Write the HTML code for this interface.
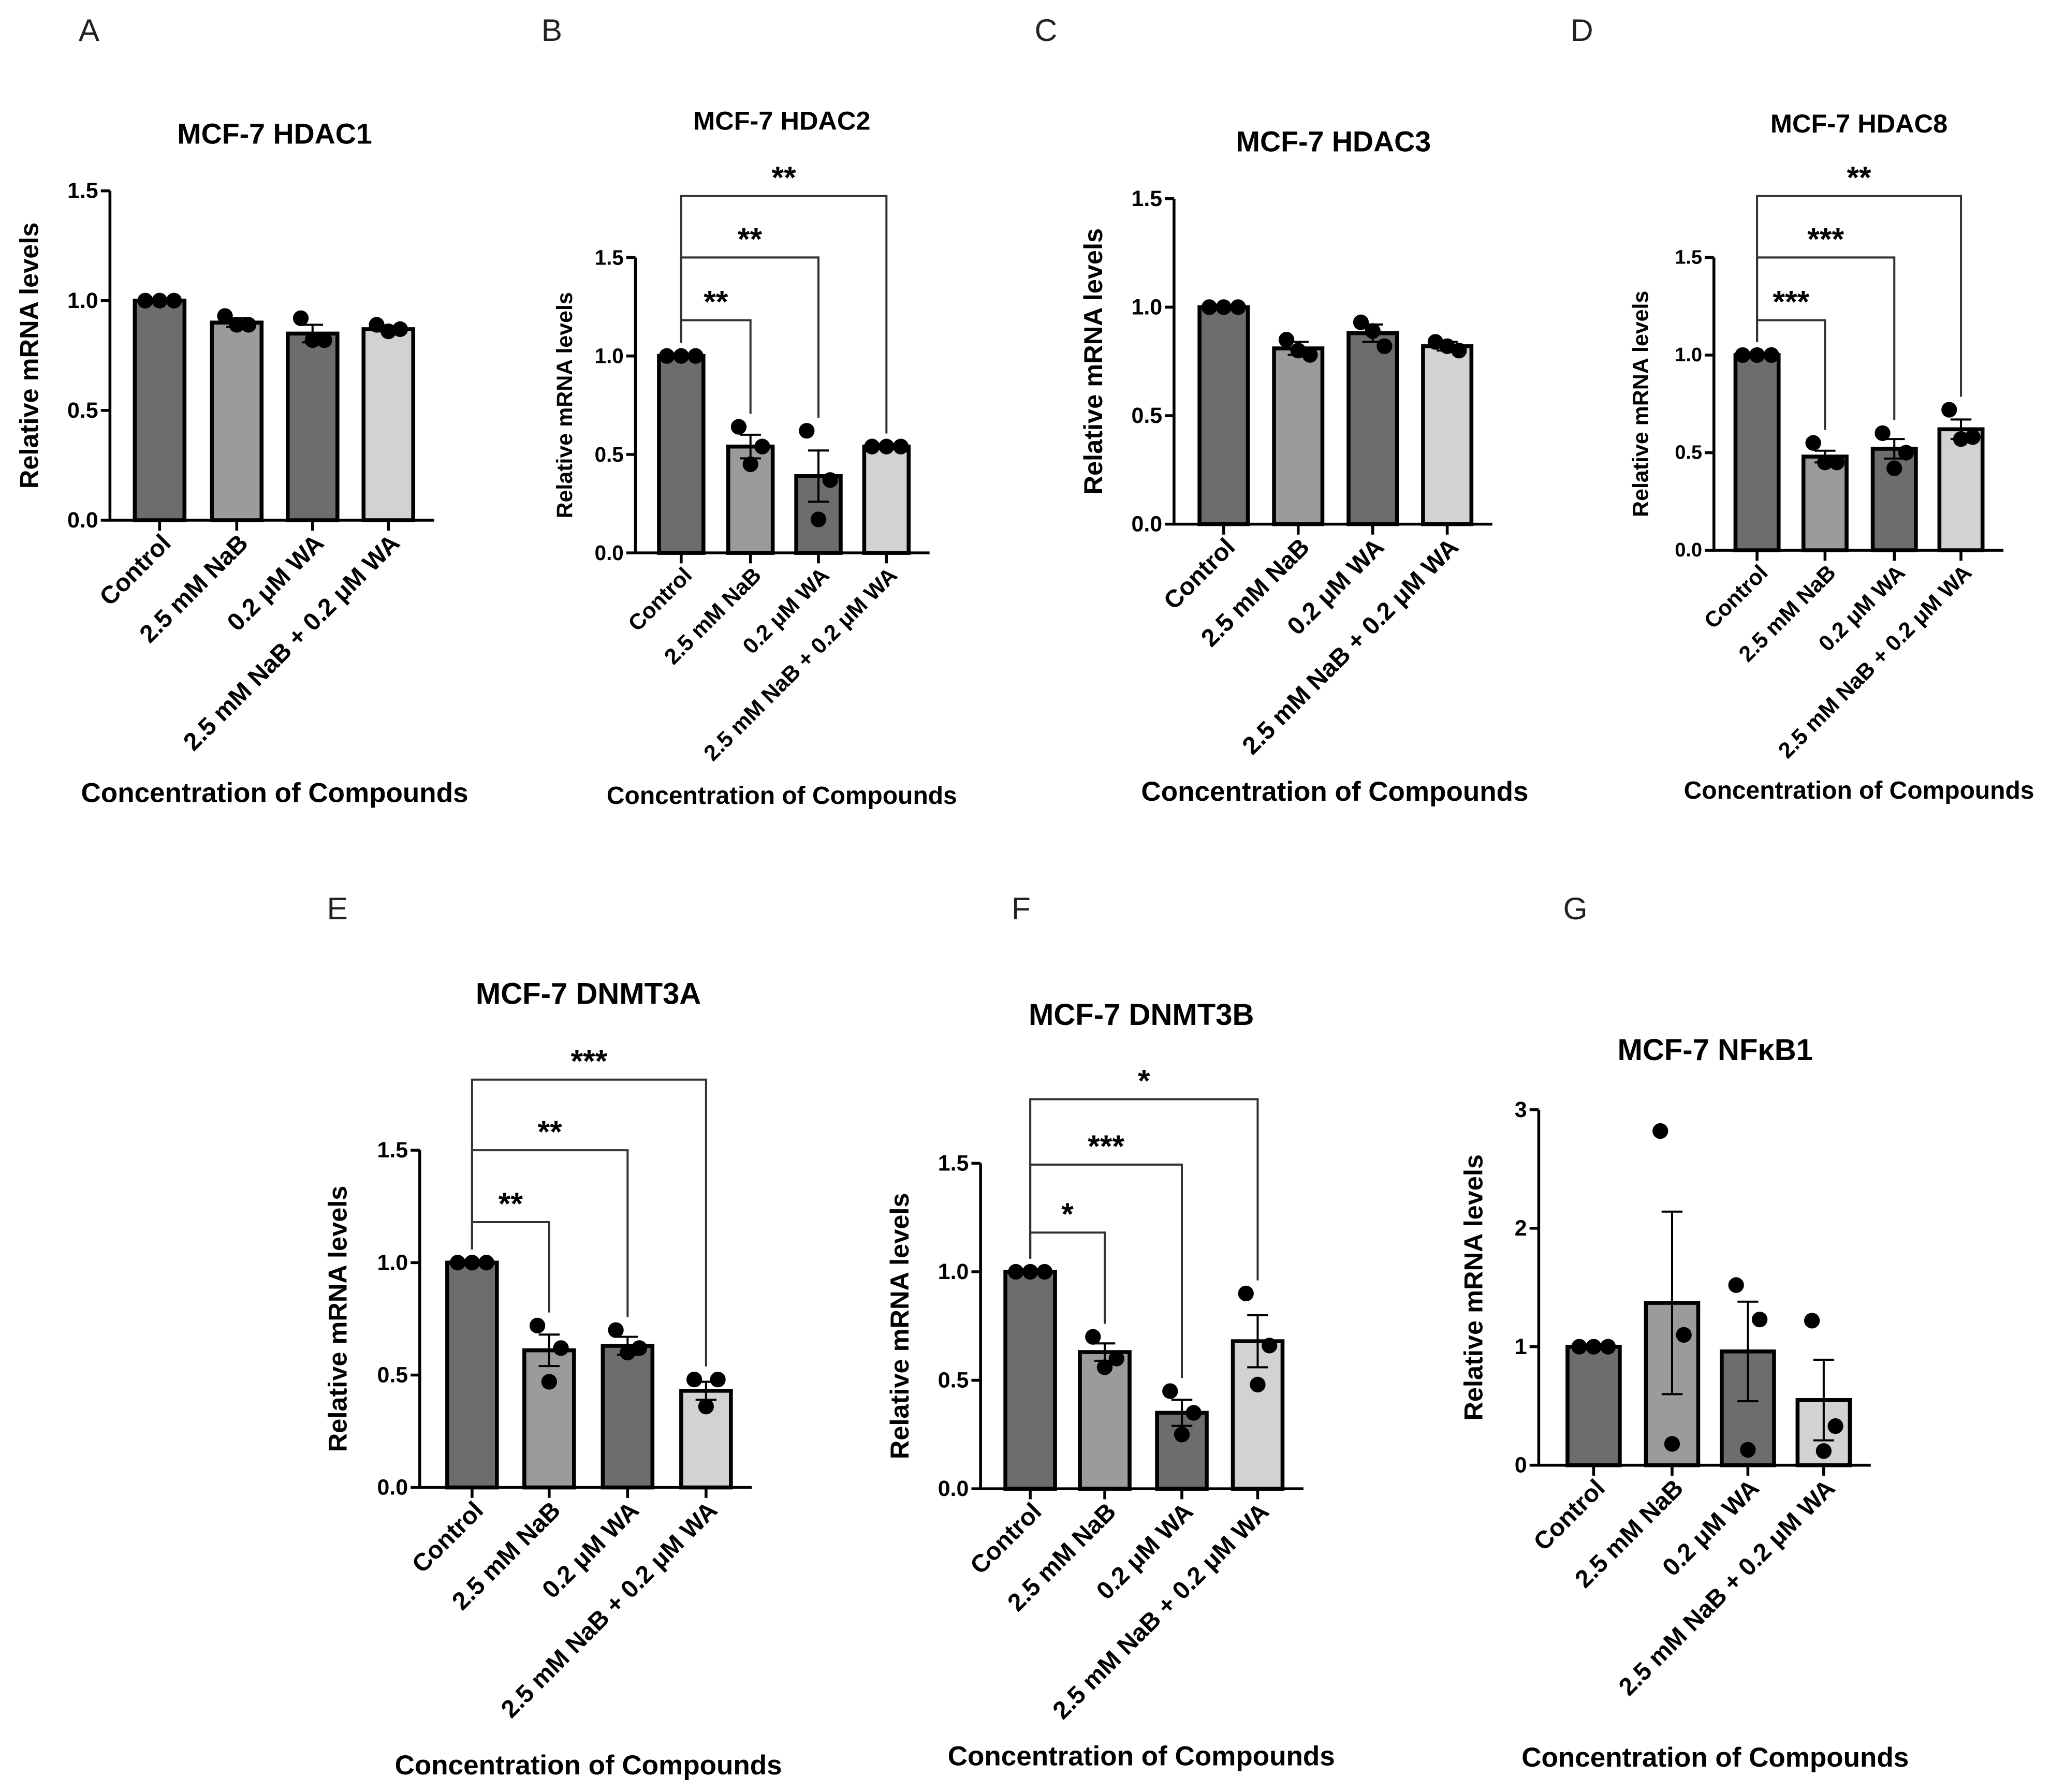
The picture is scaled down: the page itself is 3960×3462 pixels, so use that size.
<!DOCTYPE html>
<html><head><meta charset="utf-8">
<style>
html,body{margin:0;padding:0;background:#fff;}
svg{display:block;font-family:"Liberation Sans",Arial,sans-serif;}
</style></head>
<body>
<svg id="fig" width="3960" height="3462" viewBox="0 0 1568 1371" xmlns="http://www.w3.org/2000/svg"></svg>
<script>
const categories = ["Control","2.5 mM NaB","0.2 μM WA","2.5 mM NaB + 0.2 μM WA"];
const hdac1Means = [1.0,0.9,0.85,0.87];
const hdac1Points = [[1,1,1],[0.93,0.89,0.89],[0.92,0.82,0.82],[0.89,0.87,0.86]];
const hdac1Err = [0,0.02,0.04,0.01];
const hdac2Means = [1.0,0.54,0.39,0.54];
const hdac2Points = [[1,1,1],[0.64,0.54,0.45],[0.62,0.37,0.17],[0.54,0.54,0.54]];
const hdac2Err = [0,0.06,0.13,0];
const hdac2Sig = ["**","**","**"];
const hdac3Means = [1.0,0.81,0.88,0.82];
const hdac3Points = [[1,1,1],[0.85,0.78,0.80],[0.93,0.82,0.89],[0.84,0.80,0.82]];
const hdac3Err = [0,0.03,0.04,0.02];
const hdac8Means = [1.0,0.48,0.52,0.62];
const hdac8Points = [[1,1,1],[0.55,0.45,0.45],[0.60,0.50,0.42],[0.72,0.58,0.57]];
const hdac8Err = [0,0.03,0.05,0.05];
const hdac8Sig = ["***","***","**"];
const dnmt3aMeans = [1.0,0.61,0.63,0.43];
const dnmt3aPoints = [[1,1,1],[0.72,0.62,0.47],[0.70,0.62,0.60],[0.48,0.48,0.36]];
const dnmt3aErr = [0,0.07,0.04,0.04];
const dnmt3aSig = ["**","**","***"];
const dnmt3bMeans = [1.0,0.63,0.35,0.68];
const dnmt3bPoints = [[1,1,1],[0.70,0.60,0.56],[0.45,0.35,0.25],[0.90,0.66,0.48]];
const dnmt3bErr = [0,0.04,0.06,0.12];
const dnmt3bSig = ["*","***","*"];
const nfkbMeans = [1.0,1.37,0.96,0.55];
const nfkbPoints = [[1,1,1],[2.82,1.1,0.18],[1.52,1.23,0.13],[1.22,0.33,0.12]];
const nfkbErr = [0,0.77,0.42,0.34];
const ticks15 = [0,0.5,1.0,1.5];
const tickLabels15 = ["0.0","0.5","1.0","1.5"];
const ticks3 = [0,1,2,3];
const tickLabels3 = ["0","1","2","3"];

const fills = ["#6d6d6d","#9b9b9b","#6d6d6d","#d2d2d2"];
const NS="http://www.w3.org/2000/svg";
const svg=document.getElementById('fig');
function mk(tag,attrs,parent,text){const e=document.createElementNS(NS,tag);for(const k in attrs)e.setAttribute(k,attrs[k]);if(text!==undefined)e.textContent=text;(parent||svg).appendChild(e);return e;}

const panels=[
 {id:"hdac1",letter:"A",lx:68,ly:25,title:"MCF-7 HDAC1",tx:210,ty:104,ts:22,ax:84,y0:398,yTop:146,vmax:1.5,xs:[122,181,239,297],bw:38,means:hdac1Means,pts:hdac1Points,err:hdac1Err,sig:null,ticks:ticks15,tl:tickLabels15,xt:608,xtx:210,xts:21,tks:17,xls:19,yls:20,ylx:22},
 {id:"hdac2",letter:"B",lx:422,ly:25,title:"MCF-7 HDAC2",tx:598,ty:94,ts:20,ax:486,y0:423,yTop:197,vmax:1.5,xs:[521,574,626,678],bw:34,means:hdac2Means,pts:hdac2Points,err:hdac2Err,sig:hdac2Sig,sigTops:[245,197,150],ticks:ticks15,tl:tickLabels15,xt:610,xtx:598,xts:19,tks:16,xls:17,yls:17,ylx:432},
 {id:"hdac3",letter:"C",lx:800,ly:25,title:"MCF-7 HDAC3",tx:1020,ty:110,ts:22,ax:898,y0:401,yTop:152,vmax:1.5,xs:[936,993,1050,1107],bw:37,means:hdac3Means,pts:hdac3Points,err:hdac3Err,sig:null,ticks:ticks15,tl:tickLabels15,xt:607,xtx:1021,xts:21,tks:17,xls:19,yls:20,ylx:836},
 {id:"hdac8",letter:"D",lx:1210,ly:25,title:"MCF-7 HDAC8",tx:1422,ty:96,ts:20,ax:1311,y0:421,yTop:197,vmax:1.5,xs:[1344,1396,1449,1500],bw:33,means:hdac8Means,pts:hdac8Points,err:hdac8Err,sig:hdac8Sig,sigTops:[245,197,150],ticks:ticks15,tl:tickLabels15,xt:606,xtx:1422,xts:19,tks:15,xls:17,yls:17,ylx:1255},
 {id:"dnmt3a",letter:"E",lx:258,ly:697,title:"MCF-7 DNMT3A",tx:450,ty:762,ts:23,ax:321,y0:1138,yTop:880,vmax:1.5,xs:[361,420,480,540],bw:38,means:dnmt3aMeans,pts:dnmt3aPoints,err:dnmt3aErr,sig:dnmt3aSig,sigTops:[935,880,826],ticks:ticks15,tl:tickLabels15,xt:1352,xtx:450,xts:21,tks:17,xls:19,yls:20,ylx:258},
 {id:"dnmt3b",letter:"F",lx:781,ly:697,title:"MCF-7 DNMT3B",tx:873,ty:778,ts:23,ax:750,y0:1139,yTop:890,vmax:1.5,xs:[788,845,904,962],bw:38,means:dnmt3bMeans,pts:dnmt3bPoints,err:dnmt3bErr,sig:dnmt3bSig,sigTops:[943,891,841],ticks:ticks15,tl:tickLabels15,xt:1345,xtx:873,xts:21,tks:17,xls:19,yls:20,ylx:688},
 {id:"nfkb1",letter:"G",lx:1205,ly:697,title:"MCF-7 NFκB1",tx:1312,ty:805,ts:23,ax:1177,y0:1121,yTop:849,vmax:3,xs:[1219,1279,1337,1395],bw:40,means:nfkbMeans,pts:nfkbPoints,err:nfkbErr,sig:null,ticks:ticks3,tl:tickLabels3,xt:1346,xtx:1312,xts:21,tks:17,xls:19,yls:20,ylx:1127}
];

panels.forEach(p=>{
 const g=mk('g',{});
 
 
 const Y=v=>p.y0-(v/p.vmax)*(p.y0-p.yTop);
 const lt=mk('text',{x:p.lx,y:p.ly,'font-size':24,'text-anchor':'middle','dominant-baseline':'middle',fill:'#222'},g,p.letter);
 
 
 const t=mk('text',{x:p.tx,y:p.ty,'font-size':p.ts,'font-weight':'bold','text-anchor':'middle','dominant-baseline':'middle'},g,p.title);
 
 
 const xEnd=p.xs[3]+p.bw/2+16;
 p.means.forEach((m,i)=>{
  const r=mk('rect',{x:p.xs[i]-p.bw/2,y:Y(m),width:p.bw,height:p.y0-Y(m),fill:fills[i],stroke:'#000','stroke-width':3},g);
  
  
  if(p.err[i]>0){
   const e=mk('path',{d:`M${p.xs[i]},${Y(m-p.err[i])}V${Y(m+p.err[i])}M${p.xs[i]-8},${Y(m+p.err[i])}h16M${p.xs[i]-8},${Y(m-p.err[i])}h16`,stroke:'#000','stroke-width':1.6,fill:'none'},g);
   
   
  }
  const pts=p.pts[i];
  const same=pts.every(v=>Math.abs(v-pts[0])<0.02);
  pts.forEach((v,j)=>{
   const dx=same?(j-1)*11:[-9,9,0][j];
   const c=mk('circle',{cx:p.xs[i]+dx,cy:Y(v),r:6,fill:'#000'},g);
   
   
  });
 });
 const ax=mk('path',{d:`M${p.ax},${p.yTop}V${p.y0}H${xEnd}`,stroke:'#000','stroke-width':2.2,fill:'none'},g);
 
 
 p.ticks.forEach((v,k)=>{
  mk('line',{x1:p.ax-7,x2:p.ax,y1:Y(v),y2:Y(v),stroke:'#000','stroke-width':2.2},g);
  const tl=mk('text',{x:p.ax-9,y:Y(v),'font-size':p.tks,'font-weight':'bold','text-anchor':'end','dominant-baseline':'central'},g,p.tl[k]);
  
  
 });
 p.xs.forEach((x,i)=>{
  mk('line',{x1:x,x2:x,y1:p.y0,y2:p.y0+8,stroke:'#000','stroke-width':2.2},g);
  const ax0=x+5, ay0=p.y0+14;
  const xl=mk('text',{x:ax0,y:ay0,dy:'0.35em','font-size':p.xls,'font-weight':'bold','text-anchor':'end',transform:`rotate(-45 ${ax0} ${ay0})`},g,categories[i]);
  
  
 });
 const yl=mk('text',{x:p.ylx,y:(p.y0+p.yTop)/2,'font-size':p.yls,'font-weight':'bold','text-anchor':'middle','dominant-baseline':'central',transform:`rotate(-90 ${p.ylx} ${(p.y0+p.yTop)/2})`},g,"Relative mRNA levels");
 
 
 const xt=mk('text',{x:p.xtx,y:p.xt,'font-size':p.xts,'font-weight':'bold','text-anchor':'middle','dominant-baseline':'middle'},g,"Concentration of Compounds");
 
 
 if(p.sig){
  p.sig.forEach((s,k)=>{
   const i=k+1;
   const top=p.sigTops[k];
   const yl0=Y(Math.max(...p.pts[0]))-10;
   const yr=Y(Math.max(...p.pts[i],p.means[i]+p.err[i]))-10;
   const b=mk('path',{d:`M${p.xs[0]},${yl0}V${top}H${p.xs[i]}V${yr}`,stroke:'#333','stroke-width':1.6,fill:'none'},g);
   
   
   const st=mk('text',{x:(p.xs[0]+p.xs[i])/2,y:top-6,'font-size':24,'font-weight':'bold','text-anchor':'middle'},g,s);
   
   
  });
 }
});
</script>
</body></html>
